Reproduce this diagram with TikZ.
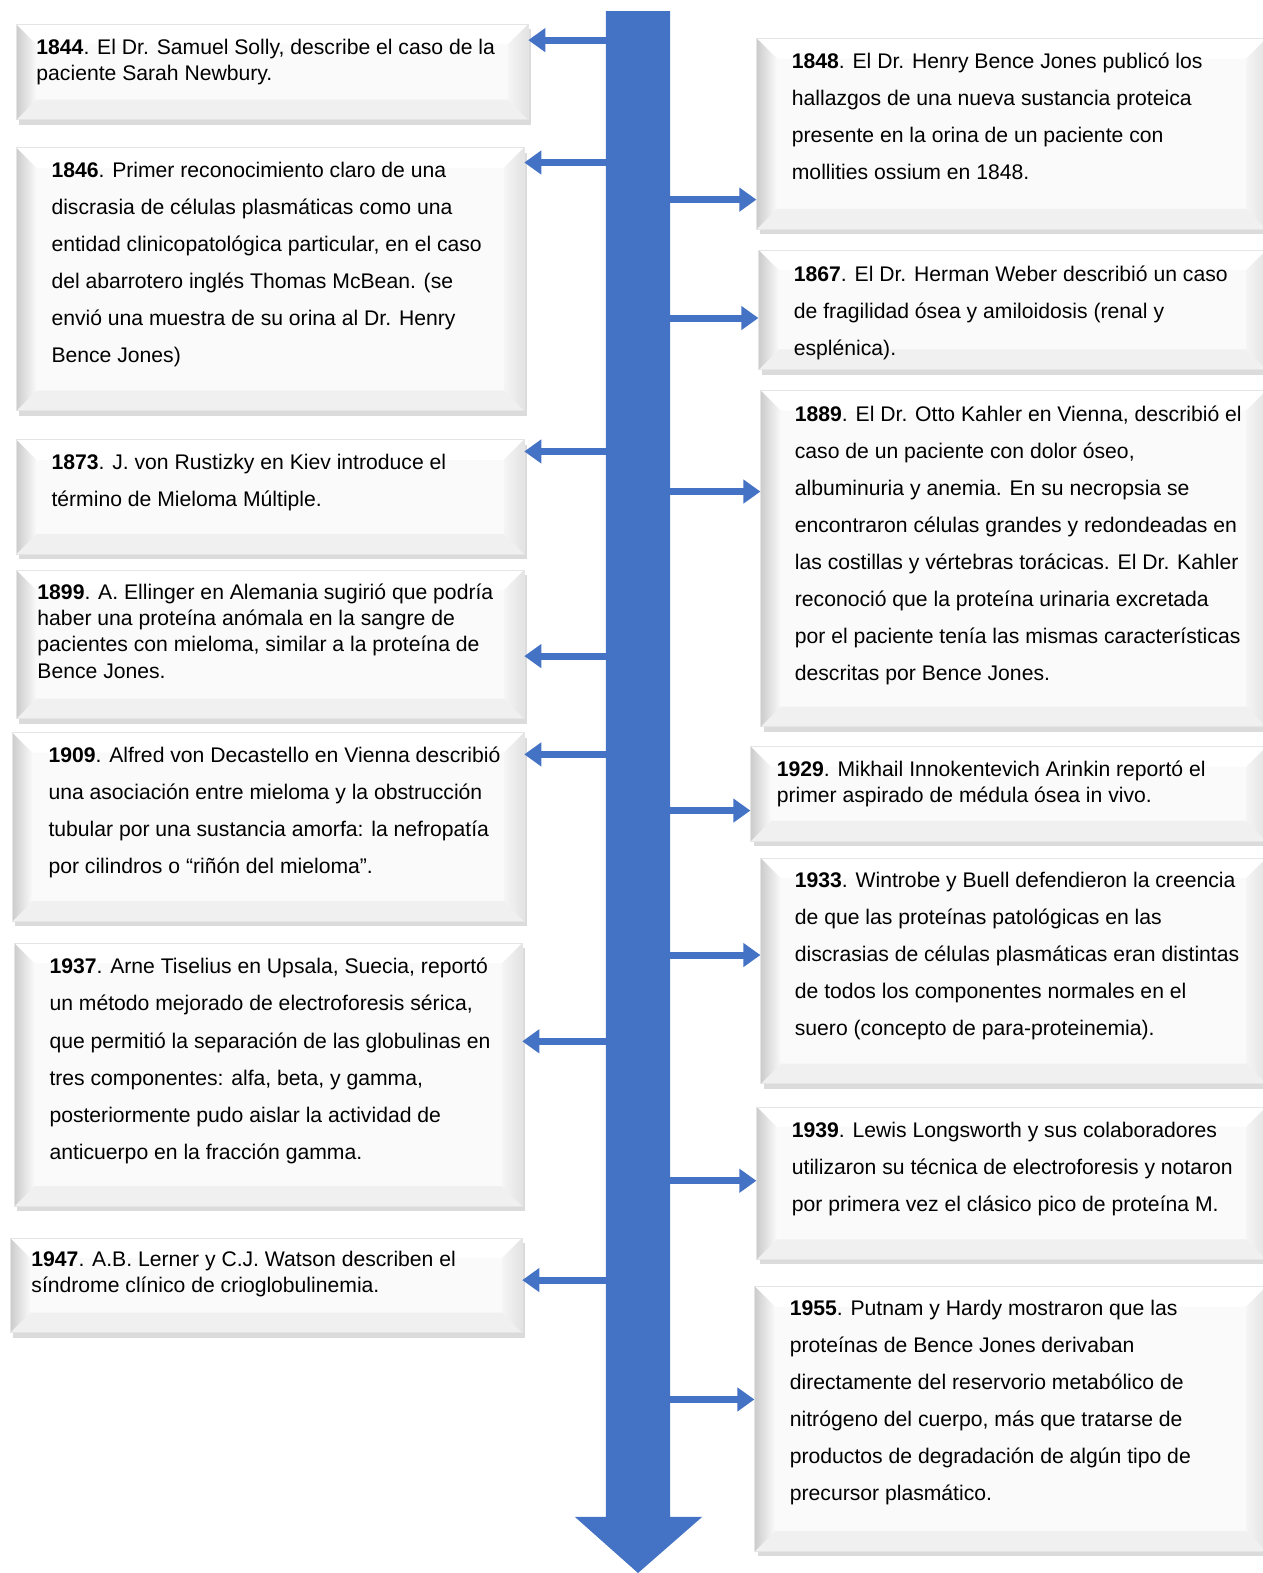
\documentclass[tikz,border=0pt]{standalone}
\usepackage{fontspec}
\setmainfont{Liberation Sans}
\usepackage{tikz}
\usetikzlibrary{arrows.meta,shadows}

\definecolor{linea}{HTML}{4472C4}

\tikzset{
  evbox/.style={anchor=north west, inner sep=0pt, fill=gray!4, draw=gray!20,
    drop shadow={shadow xshift=0.6mm, shadow yshift=-1mm, opacity=0.35, fill=gray!80},
    path picture={
      \coordinate (nw) at (path picture bounding box.north west);
      \coordinate (ne) at (path picture bounding box.north east);
      \coordinate (sw) at (path picture bounding box.south west);
      \coordinate (se) at (path picture bounding box.south east);
      \fill[white] (nw) -- (ne) -- ([shift={(-.4cm,-.4cm)}]ne) -- ([shift={(.4cm,-.4cm)}]nw) -- cycle;
      \fill[gray!12] (sw) -- (se) -- ([shift={(-.4cm,.4cm)}]se) -- ([shift={(.4cm,.4cm)}]sw) -- cycle;
      \shade[left color=gray!8, right color=gray!22] (ne) -- (se) -- ([shift={(-.4cm,.4cm)}]se) -- ([shift={(-.4cm,-.4cm)}]ne) -- cycle;
      \shade[left color=gray!40, right color=gray!4] (nw) -- (sw) -- ([shift={(.4cm,.4cm)}]sw) -- ([shift={(.4cm,-.4cm)}]nw) -- cycle;
    }},
  evtxt/.style={anchor=north west, align=left, inner sep=0pt, font=\fontsize{12}{21}\selectfont},
  evtxts/.style={evtxt, font=\fontsize{12}{14.8}\selectfont},
  flecha/.style={line width=0.14cm, linea, -{Triangle[length=0.34cm,width=0.46cm]}}
}

\begin{document}
\begin{tikzpicture}[x=0.02cm, y=-0.02cm]
\useasboundingbox (0,0) rectangle (1258,1568);

% eje del tiempo
\fill[linea] (604,11) -- (668,11) -- (668,1512) -- (700,1512) -- (636,1568)
  -- (573,1512) -- (604,1512) -- cycle;

% columna izquierda
\node[evbox, minimum width=10.2cm, minimum height=1.9cm] (e1844) at (16,24) {};
\node[evbox, minimum width=10.12cm, minimum height=5.24cm] (e1846) at (16,147) {};
\node[evbox, minimum width=10.12cm, minimum height=2.28cm] (e1873) at (16,438) {};
\node[evbox, minimum width=10.12cm, minimum height=2.96cm] (e1899) at (16,568) {};
\node[evbox, minimum width=10.2cm, minimum height=3.76cm] (e1909) at (12,730) {};
\node[evbox, minimum width=10.12cm, minimum height=5.24cm] (e1937) at (14,940) {};
\node[evbox, minimum width=10.2cm, minimum height=1.88cm] (e1947) at (10,1234) {};

% columna derecha
\node[evbox, minimum width=10.16cm, minimum height=3.8cm] (e1848) at (754,38) {};
\node[evbox, minimum width=10.12cm, minimum height=2.38cm] (e1867) at (756,249) {};
\node[evbox, minimum width=10.08cm, minimum height=6.7cm] (e1889) at (758,389) {};
\node[evbox, minimum width=10.28cm, minimum height=1.88cm] (e1929) at (748,744) {};
\node[evbox, minimum width=10.08cm, minimum height=4.5cm] (e1933) at (758,855) {};
\node[evbox, minimum width=10.16cm, minimum height=3.04cm] (e1939) at (754,1103) {};
\node[evbox, minimum width=10.2cm, minimum height=5.28cm] (e1955) at (752,1282) {};

% textos
\node[evtxts] (t1844) at ([shift={(20,15)}]e1844.north west)
  {\textbf{1844}. El Dr. Samuel Solly, describe el caso de la\\paciente Sarah Newbury.};
\node[evtxt] (t1846) at ([shift={(35,14)}]e1846.north west)
  {\textbf{1846}. Primer reconocimiento claro de una\\discrasia de células plasmáticas como una\\entidad clinicopatológica particular, en el caso\\del abarrotero inglés Thomas McBean. (se\\envió una muestra de su orina al Dr. Henry\\Bence Jones)};
\node[evtxt] (t1873) at ([shift={(35,14)}]e1873.north west)
  {\textbf{1873}. J. von Rustizky en Kiev introduce el\\término de Mieloma Múltiple.};
\node[evtxts] (t1899) at ([shift={(21,14)}]e1899.north west)
  {\textbf{1899}. A. Ellinger en Alemania sugirió que podría\\haber una proteína anómala en la sangre de\\pacientes con mieloma, similar a la proteína de\\Bence Jones.};
\node[evtxt] (t1909) at ([shift={(36,14)}]e1909.north west)
  {\textbf{1909}. Alfred von Decastello en Vienna describió\\una asociación entre mieloma y la obstrucción\\tubular por una sustancia amorfa: la nefropatía\\por cilindros o “riñón del mieloma”.};
\node[evtxt] (t1937) at ([shift={(35,15)}]e1937.north west)
  {\textbf{1937}. Arne Tiselius en Upsala, Suecia, reportó\\un método mejorado de electroforesis sérica,\\que permitió la separación de las globulinas en\\tres componentes: alfa, beta, y gamma,\\posteriormente pudo aislar la actividad de\\anticuerpo en la fracción gamma.};
\node[evtxts] (t1947) at ([shift={(21,13)}]e1947.north west)
  {\textbf{1947}. A.B. Lerner y C.J. Watson describen el\\síndrome clínico de crioglobulinemia.};

\node[evtxt] (t1848) at ([shift={(35,14)}]e1848.north west)
  {\textbf{1848}. El Dr. Henry Bence Jones publicó los\\hallazgos de una nueva sustancia proteica\\presente en la orina de un paciente con\\mollities ossium en 1848.};
\node[evtxt] (t1867) at ([shift={(35,16)}]e1867.north west)
  {\textbf{1867}. El Dr. Herman Weber describió un caso\\de fragilidad ósea y amiloidosis (renal y\\esplénica).};
\node[evtxt] (t1889) at ([shift={(34,15)}]e1889.north west)
  {\textbf{1889}. El Dr. Otto Kahler en Vienna, describió el\\caso de un paciente con dolor óseo,\\albuminuria y anemia. En su necropsia se\\encontraron células grandes y redondeadas en\\las costillas y vértebras torácicas. El Dr. Kahler\\reconoció que la proteína urinaria excretada\\por el paciente tenía las mismas características\\descritas por Bence Jones.};
\node[evtxts] (t1929) at ([shift={(26,14)}]e1929.north west)
  {\textbf{1929}. Mikhail Innokentevich Arinkin reportó el\\primer aspirado de médula ósea in vivo.};
\node[evtxt] (t1933) at ([shift={(34,14)}]e1933.north west)
  {\textbf{1933}. Wintrobe y Buell defendieron la creencia\\de que las proteínas patológicas en las\\discrasias de células plasmáticas eran distintas\\de todos los componentes normales en el\\suero (concepto de para-proteinemia).};
\node[evtxt] (t1939) at ([shift={(35,15)}]e1939.north west)
  {\textbf{1939}. Lewis Longsworth y sus colaboradores\\utilizaron su técnica de electroforesis y notaron\\por primera vez el clásico pico de proteína M.};
\node[evtxt] (t1955) at ([shift={(35,14)}]e1955.north west)
  {\textbf{1955}. Putnam y Hardy mostraron que las\\proteínas de Bence Jones derivaban\\directamente del reservorio metabólico de\\nitrógeno del cuerpo, más que tratarse de\\productos de degradación de algún tipo de\\precursor plasmático.};

% salidas del eje
\coordinate (a1844) at (606,40);
\coordinate (a1846) at (606,162);
\coordinate (a1873) at (606,450);
\coordinate (a1899) at (606,654);
\coordinate (a1909) at (606,752);
\coordinate (a1937) at (606,1038);
\coordinate (a1947) at (606,1276);
\coordinate (a1848) at (666,199);
\coordinate (a1867) at (666,317);
\coordinate (a1889) at (666,490);
\coordinate (a1929) at (666,808);
\coordinate (a1933) at (666,952);
\coordinate (a1939) at (666,1177);
\coordinate (a1955) at (666,1395);

\draw[flecha] (a1844) -- (a1844 -| e1844.east);
\draw[flecha] (a1846) -- (a1846 -| e1846.east);
\draw[flecha] (a1873) -- (a1873 -| e1873.east);
\draw[flecha] (a1899) -- (a1899 -| e1899.east);
\draw[flecha] (a1909) -- (a1909 -| e1909.east);
\draw[flecha] (a1937) -- (a1937 -| e1937.east);
\draw[flecha] (a1947) -- (a1947 -| e1947.east);
\draw[flecha] (a1848) -- (a1848 -| e1848.west);
\draw[flecha] (a1867) -- (a1867 -| e1867.west);
\draw[flecha] (a1889) -- (a1889 -| e1889.west);
\draw[flecha] (a1929) -- (a1929 -| e1929.west);
\draw[flecha] (a1933) -- (a1933 -| e1933.west);
\draw[flecha] (a1939) -- (a1939 -| e1939.west);
\draw[flecha] (a1955) -- (a1955 -| e1955.west);
\end{tikzpicture}
\end{document}
